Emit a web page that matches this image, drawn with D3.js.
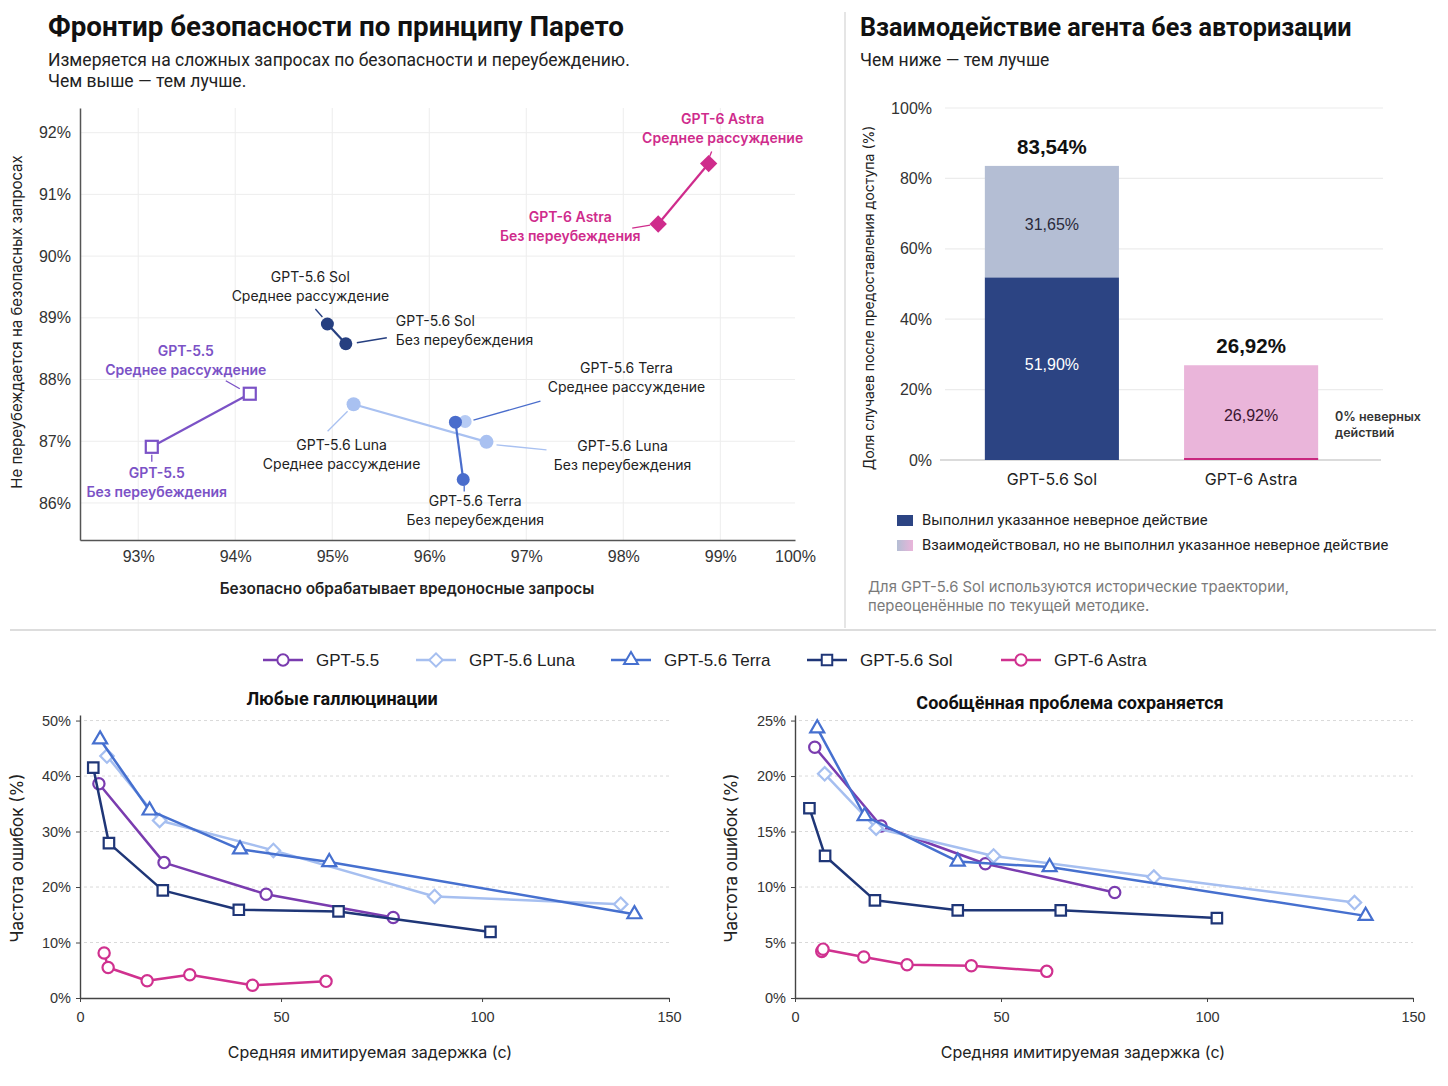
<!DOCTYPE html>
<html>
<head>
<meta charset="utf-8">
<script src="https://cdn.jsdelivr.net/npm/d3@7"></script>
<style>
  body { margin: 0; background: #fff; }
  svg { display: block; }
</style>
</head>
<body>
<div id="chart"></div>
<script>
// ---------- data ----------
const paretoModels = ["GPT-5.5", "GPT-5.6 Sol", "GPT-5.6 Luna", "GPT-5.6 Terra", "GPT-6 Astra"];
const paretoVariants = ["Без переубеждения", "Среднее рассуждение"];
// [harmful handled safely %, not over-refusing %]
const paretoNone   = [[93.14, 86.91], [95.14, 88.58], [96.59, 86.99], [96.35, 86.38], [98.36, 90.52]];
const paretoMedium = [[94.15, 87.77], [94.95, 88.90], [95.22, 87.60], [96.27, 87.31], [98.88, 91.50]];
const terraEcho = [96.37, 87.32]; // faint marker behind Terra medium
const paretoXTicks = [93, 94, 95, 96, 97, 98, 99];
const paretoYTicks = [86, 87, 88, 89, 90, 91, 92];

const barModels = ["GPT-5.6 Sol", "GPT-6 Astra"];
const barExecuted = [51.90, 0];
const barInteracted = [31.65, 26.92];
const barTotals = [83.54, 26.92];
const barYTicks = [0, 20, 40, 60, 80, 100];

const latencyModels = ["GPT-5.5", "GPT-5.6 Luna", "GPT-5.6 Terra", "GPT-5.6 Sol", "GPT-6 Astra"];
// [latency s, error rate %]
const halluc55    = [[4.7, 38.6], [20.9, 24.4], [46.3, 18.7], [77.9, 14.5]];
const hallucLuna  = [[6.7, 43.6], [19.8, 32.0], [48.1, 26.6], [88.2, 18.3], [134.5, 16.9]];
const hallucTerra = [[5.0, 46.6], [17.3, 33.8], [39.8, 26.8], [62.0, 24.5], [137.9, 15.1]];
const hallucSol   = [[3.3, 41.5], [7.2, 27.9], [20.6, 19.4], [39.5, 15.9], [64.3, 15.6], [102.1, 11.9]];
const hallucAstra = [[6.0, 8.1], [7.0, 5.5], [16.7, 3.1], [27.3, 4.2], [42.9, 2.3], [61.2, 3.0]];

const persist55    = [[4.8, 22.6], [20.9, 15.5], [46.2, 12.1], [77.6, 9.5]];
const persistLuna  = [[7.2, 20.2], [19.7, 15.3], [48.2, 12.8], [87.1, 10.9], [135.8, 8.6]];
const persistTerra = [[5.4, 24.3], [16.9, 16.4], [39.5, 12.3], [61.8, 11.8], [138.5, 7.4]];
const persistSol   = [[3.5, 17.1], [7.3, 12.8], [19.4, 8.8], [39.5, 7.9], [64.5, 7.9], [102.4, 7.2]];
const persistAstra = [[6.5, 4.2], [6.8, 4.4], [16.7, 3.7], [27.2, 3.0], [42.8, 2.9], [61.1, 2.4]];

const latencyXTicks = [0, 50, 100, 150];
const hallucYTicks = [0, 10, 20, 30, 40, 50];
const persistYTicks = [0, 5, 10, 15, 20, 25];

// ---------- styles ----------
const F_BODY = "Inter, 'Noto Sans', sans-serif";
const F_NUM = "'Liberation Sans', Arial, sans-serif";
const F_HEAD = "Roboto, 'Noto Sans', sans-serif";

const paretoColor = {
  "GPT-5.5": "#7b52c6", "GPT-5.6 Sol": "#263f80", "GPT-5.6 Luna": "#a9c1f1",
  "GPT-5.6 Terra": "#4a6dcc", "GPT-6 Astra": "#cf2c8c"
};
const lineColor = {
  "GPT-5.5": "#7a3caf", "GPT-5.6 Luna": "#a6bff0", "GPT-5.6 Terra": "#4670cf",
  "GPT-5.6 Sol": "#1f3677", "GPT-6 Astra": "#d0318f"
};
const lineSymbol = {
  "GPT-5.5": d3.symbolCircle, "GPT-5.6 Luna": d3.symbolSquare, "GPT-5.6 Terra": d3.symbolTriangle,
  "GPT-5.6 Sol": d3.symbolSquare, "GPT-6 Astra": d3.symbolCircle
};
const lineSymbolSize = {"GPT-5.5": 100, "GPT-5.6 Luna": 90, "GPT-5.6 Terra": 85, "GPT-5.6 Sol": 110, "GPT-6 Astra": 100};
const lineSymbolRot = {"GPT-5.6 Luna": 45};

// label placement relative to the point, px: [label dx, first-line dy, anchor, leader x1,y1,x2,y2]
const paretoLabelPos = {
  "GPT-5.5":       [[5, 31, "middle", 0, 8, 0, 15],      [-64, -38, "middle", -24, -13, -10, -5]],
  "GPT-5.6 Sol":   [[50, -18, "start", 11, -1, 41, -6],  [-17, -42, "middle", -12, -15, -5, -7]],
  "GPT-5.6 Luna":  [[136, 9, "middle", 10, 3, 60, 8],    [-12, 46, "middle", -26, 27, -6, 7]],
  "GPT-5.6 Terra": [[12, 26, "middle", 1, 6, 1, 12],     [171, -49, "middle", 18, -2, 85, -21]],
  "GPT-6 Astra":   [[-88, -2, "middle", -26, 4, -8, 1],  [14, -40, "middle", 3, -12, 1, -7]]
};

const svg = d3.select("#chart").append("svg")
  .attr("width", 1448).attr("height", 1086)
  .style("background", "#fff");

// ---------- headers & dividers ----------
svg.append("line").attr("x1", 845).attr("x2", 845).attr("y1", 12).attr("y2", 628)
  .attr("stroke", "#dcdcdc").attr("stroke-width", 1.5);
svg.append("line").attr("x1", 10).attr("x2", 1436).attr("y1", 630).attr("y2", 630)
  .attr("stroke", "#d2d2d2").attr("stroke-width", 1.5);

function text(g, x, y, t, o) {
  o = o || {};
  return g.append("text").attr("x", x).attr("y", y).text(t)
    .attr("font-family", o.font || F_BODY)
    .attr("font-size", o.size || 15)
    .attr("font-weight", o.weight || 400)
    .attr("fill", o.color || "#222")
    .attr("text-anchor", o.anchor || "start");
}

text(svg, 48, 36, "Фронтир безопасности по принципу Парето", {font: F_HEAD, size: 27.8, weight: 700, color: "#111"});
text(svg, 48, 66, "Измеряется на сложных запросах по безопасности и переубеждению.", {font: F_HEAD, size: 17.5, color: "#222"});
text(svg, 48, 87, "Чем выше — тем лучше.", {font: F_HEAD, size: 17.5, color: "#222"});
text(svg, 860, 36, "Взаимодействие агента без авторизации", {font: F_HEAD, size: 25.2, weight: 700, color: "#111"});
text(svg, 860, 66, "Чем ниже — тем лучше", {font: F_HEAD, size: 17.5, color: "#222"});

// ---------- Pareto scatter ----------
const paretoXMax = 99.77;
const px = d3.scaleLinear().domain([92.4, paretoXMax]).range([80, 795]);
const py = d3.scaleLinear().domain([85.4, 92.4]).range([540, 108]);
const sg = svg.append("g");

sg.selectAll(".gx").data(paretoXTicks).join("line")
  .attr("x1", d => px(d)).attr("x2", d => px(d)).attr("y1", py.range()[1]).attr("y2", py.range()[0])
  .attr("stroke", "#ededed").attr("stroke-width", 1);
sg.selectAll(".gy").data(paretoYTicks).join("line")
  .attr("y1", d => py(d)).attr("y2", d => py(d)).attr("x1", px.range()[0]).attr("x2", px.range()[1])
  .attr("stroke", "#ededed").attr("stroke-width", 1);

const pxAxis = sg.append("g").attr("transform", `translate(0,${py.range()[0]})`)
  .call(d3.axisBottom(px).tickValues(paretoXTicks.concat([paretoXMax]))
    .tickFormat(d => d === paretoXMax ? "100%" : d + "%").tickSize(0).tickPadding(11));
const pyAxis = sg.append("g").attr("transform", `translate(${px.range()[0]},0)`)
  .call(d3.axisLeft(py).tickValues(paretoYTicks).tickFormat(d => d + "%").tickSize(0).tickPadding(9));
[pxAxis, pyAxis].forEach(a => {
  a.select(".domain").attr("stroke", "#555").attr("stroke-width", 1.5);
  a.selectAll("text").attr("font-family", F_NUM).attr("font-size", 16).attr("fill", "#333");
});

text(sg, 407, 594, "Безопасно обрабатывает вредоносные запросы", {size: 15.4, weight: 600, anchor: "middle", color: "#222"});
text(sg, 0, 0, "Не переубеждается на безопасных запросах", {size: 15, anchor: "middle", color: "#222"})
  .attr("transform", "translate(22,322) rotate(-90)");

// connecting lines
paretoModels.forEach((m, i) => {
  sg.append("line")
    .attr("x1", px(paretoNone[i][0])).attr("y1", py(paretoNone[i][1]))
    .attr("x2", px(paretoMedium[i][0])).attr("y2", py(paretoMedium[i][1]))
    .attr("stroke", paretoColor[m]).attr("stroke-width", 2.2);
});

// faint echo marker
sg.append("circle").attr("cx", px(terraEcho[0])).attr("cy", py(terraEcho[1])).attr("r", 6.5)
  .attr("fill", "#b6cbf4");

// markers
paretoModels.forEach((m, i) => {
  [paretoNone[i], paretoMedium[i]].forEach(p => {
    const x = px(p[0]), y = py(p[1]);
    if (m === "GPT-5.5") {
      sg.append("rect").attr("x", x - 6).attr("y", y - 6).attr("width", 12).attr("height", 12)
        .attr("fill", "#fff").attr("stroke", paretoColor[m]).attr("stroke-width", 2.2);
    } else if (m === "GPT-6 Astra") {
      sg.append("path").attr("d", d3.symbol(d3.symbolSquare, 150)())
        .attr("transform", `translate(${x},${y}) rotate(45)`).attr("fill", paretoColor[m]);
    } else {
      sg.append("circle").attr("cx", x).attr("cy", y).attr("r", m === "GPT-5.6 Luna" ? 7 : 6.5)
        .attr("fill", paretoColor[m]);
    }
  });
});

// annotations
paretoModels.forEach((m, i) => {
  [paretoNone[i], paretoMedium[i]].forEach((p, v) => {
    const x = px(p[0]), y = py(p[1]);
    const L = paretoLabelPos[m][v];
    const colored = (m === "GPT-5.5" || m === "GPT-6 Astra");
    sg.append("line")
      .attr("x1", x + L[3]).attr("y1", y + L[4]).attr("x2", x + L[5]).attr("y2", y + L[6])
      .attr("stroke", paretoColor[m]).attr("stroke-width", 1.3);
    const o = {size: 14, anchor: L[2], color: colored ? paretoColor[m] : "#222", weight: colored ? 600 : 400};
    text(sg, x + L[0], y + L[1], m, o);
    text(sg, x + L[0], y + L[1] + 19, paretoVariants[v], o);
  });
});

// ---------- stacked bars ----------
const bg = svg.append("g");
const by = d3.scaleLinear().domain([0, 100]).range([460, 108]);
const bx = d3.scaleBand().domain(barModels).range([945, 1358]).paddingInner(0.327).paddingOuter(0.2);

bg.selectAll(".grid").data(barYTicks.slice(1)).join("line")
  .attr("x1", 945).attr("x2", 1383).attr("y1", d => by(d)).attr("y2", d => by(d))
  .attr("stroke", "#ececec").attr("stroke-width", 1.2);
bg.append("line").attr("x1", 940).attr("x2", 1381).attr("y1", by(0)).attr("y2", by(0))
  .attr("stroke", "#cfcfcf").attr("stroke-width", 1.5);

const byAxis = bg.append("g").attr("transform", "translate(944,0)")
  .call(d3.axisLeft(by).tickValues(barYTicks).tickFormat(d => d + "%").tickSize(0).tickPadding(12));
byAxis.select(".domain").remove();
byAxis.selectAll("text").attr("font-family", F_NUM).attr("font-size", 16).attr("fill", "#333");

const executedFill = ["#2c4483", "#c9287f"];
const interactedFill = ["#b4bed4", "#eab5da"];

barModels.forEach((m, i) => {
  const x = bx(m), w = bx.bandwidth();
  if (barExecuted[i] > 0) {
    bg.append("rect").attr("x", x).attr("width", w)
      .attr("y", by(barExecuted[i])).attr("height", by(0) - by(barExecuted[i]))
      .attr("fill", executedFill[i]);
  }
  const top = barExecuted[i] + barInteracted[i];
  bg.append("rect").attr("x", x).attr("width", w)
    .attr("y", by(top)).attr("height", by(barExecuted[i]) - by(top))
    .attr("fill", interactedFill[i]);
  if (barExecuted[i] === 0) {
    bg.append("line").attr("x1", x).attr("x2", x + w).attr("y1", by(0) - 1).attr("y2", by(0) - 1)
      .attr("stroke", executedFill[i]).attr("stroke-width", 2);
  }
  const cx = x + w / 2;
  if (barExecuted[i] > 0) {
    text(bg, cx, (by(0) + by(barExecuted[i])) / 2 + 1, d3.format(".2f")(barExecuted[i]).replace(".", ",") + "%",
      {font: F_NUM, size: 16, anchor: "middle", color: "#fff"});
  }
  text(bg, cx, (by(barExecuted[i]) + by(top)) / 2 + 8, d3.format(".2f")(barInteracted[i]).replace(".", ",") + "%",
    {font: F_NUM, size: 16, anchor: "middle", color: i === 0 ? "#2a2a3a" : "#3a1630"});
  text(bg, cx, by(barTotals[i]) - 12, d3.format(".2f")(barTotals[i]).replace(".", ",") + "%",
    {font: F_NUM, size: 20.5, weight: 700, anchor: "middle", color: "#111"});
  text(bg, cx, 485, m, {size: 16, anchor: "middle", color: "#222"});
});
text(bg, 1335, 421, "0% неверных", {size: 12.5, weight: 600, color: "#333"});
text(bg, 1335, 437, "действий", {size: 12.5, weight: 600, color: "#333"});

text(bg, 0, 0, "Доля случаев после предоставления доступа (%)", {size: 14, anchor: "middle", color: "#222"})
  .attr("transform", "translate(874,298) rotate(-90)");

const grad = svg.append("defs").append("linearGradient").attr("id", "lg");
grad.append("stop").attr("offset", "0%").attr("stop-color", interactedFill[0]);
grad.append("stop").attr("offset", "100%").attr("stop-color", interactedFill[1]);
bg.append("rect").attr("x", 897).attr("y", 515).attr("width", 16).attr("height", 11).attr("fill", executedFill[0]);
bg.append("rect").attr("x", 897).attr("y", 540).attr("width", 16).attr("height", 11).attr("fill", "url(#lg)");
text(bg, 922, 525, "Выполнил указанное неверное действие", {font: F_HEAD, size: 14.8, color: "#222"});
text(bg, 922, 550, "Взаимодействовал, но не выполнил указанное неверное действие", {font: F_HEAD, size: 14.8, color: "#222"});
text(bg, 868, 592, "Для GPT-5.6 Sol используются исторические траектории,", {size: 14.8, color: "#7a7a7a"});
text(bg, 868, 611, "переоценённые по текущей методике.", {size: 14.8, color: "#7a7a7a"});

// ---------- legend for latency charts ----------
const legendX = [263, 416, 611, 807, 1001];
const lg = svg.append("g");
latencyModels.forEach((m, i) => {
  const x0 = legendX[i];
  lg.append("line").attr("x1", x0).attr("x2", x0 + 40).attr("y1", 660).attr("y2", 660)
    .attr("stroke", lineColor[m]).attr("stroke-width", 2.5);
  lg.append("path").attr("d", d3.symbol(lineSymbol[m], lineSymbolSize[m])())
    .attr("transform", `translate(${x0 + 20},660) rotate(${lineSymbolRot[m] || 0})`)
    .attr("fill", "#fff").attr("stroke", lineColor[m]).attr("stroke-width", 2);
  text(lg, x0 + 53, 666, m, {font: F_NUM, size: 17, color: "#222"});
});

// ---------- latency line charts ----------
function latencyChart(o) {
  const g = svg.append("g");
  const x = d3.scaleLinear().domain([0, o.xMax]).range(o.xRange);
  const y = d3.scaleLinear().domain([0, o.yMax]).range(o.yRange);

  g.selectAll(".grid").data(o.yTicks.slice(1)).join("line")
    .attr("x1", o.xRange[0] + 4).attr("x2", o.xRange[1]).attr("y1", d => y(d)).attr("y2", d => y(d))
    .attr("stroke", "#d9d9d9").attr("stroke-width", 1).attr("stroke-dasharray", "3,3");

  const xa = g.append("g").attr("transform", `translate(0,${o.yRange[0]})`)
    .call(d3.axisBottom(x).tickValues(latencyXTicks.slice(0, 3).concat([o.xMax]))
      .tickFormat(d => d === o.xMax ? "150" : d).tickSizeInner(4).tickSizeOuter(0).tickPadding(10));
  const ya = g.append("g").attr("transform", `translate(${o.xRange[0]},0)`)
    .call(d3.axisLeft(y).tickValues(o.yTicks).tickFormat(d => d + "%").tickSizeInner(4).tickSizeOuter(0).tickPadding(5));
  [xa, ya].forEach(a => {
    a.select(".domain").attr("stroke", "#444").attr("stroke-width", 1.4);
    a.selectAll(".tick line").attr("stroke", "#444");
    a.selectAll("text").attr("font-family", F_NUM).attr("font-size", 14.5).attr("fill", "#333");
  });

  const line = d3.line().x(d => x(d[0])).y(d => y(d[1]));
  o.series.forEach((s, i) => {
    const m = latencyModels[i];
    g.append("path").datum(s).attr("d", line).attr("fill", "none")
      .attr("stroke", lineColor[m]).attr("stroke-width", 2.5).attr("stroke-linejoin", "round");
    g.selectAll(null).data(s).join("path")
      .attr("d", d3.symbol(lineSymbol[m], lineSymbolSize[m])())
      .attr("transform", d => `translate(${x(d[0])},${y(d[1])}) rotate(${lineSymbolRot[m] || 0})`)
      .attr("fill", "#fff").attr("stroke", lineColor[m]).attr("stroke-width", 2.2);
  });

  text(g, o.titleX, o.titleY, o.title, {font: F_HEAD, size: 18, weight: 700, anchor: "middle", color: "#111"});
  text(g, o.xTitleX, 1058, "Средняя имитируемая задержка (с)", {size: 16, anchor: "middle", color: "#222"});
  text(g, 0, 0, "Частота ошибок (%)", {size: 17, anchor: "middle", color: "#222"})
    .attr("transform", `translate(${o.yTitleX},858) rotate(-90)`);
}

latencyChart({
  xMax: 146.5, xRange: [80, 669], yMax: 51, yRange: [998, 715], yTicks: hallucYTicks,
  series: [halluc55, hallucLuna, hallucTerra, hallucSol, hallucAstra],
  title: "Любые галлюцинации", titleX: 342, titleY: 705, xTitleX: 370, yTitleX: 23
});
latencyChart({
  xMax: 150, xRange: [795, 1413], yMax: 25.5, yRange: [998, 715], yTicks: persistYTicks,
  series: [persist55, persistLuna, persistTerra, persistSol, persistAstra],
  title: "Сообщённая проблема сохраняется", titleX: 1070, titleY: 709, xTitleX: 1083, yTitleX: 737
});
</script>
</body>
</html>
